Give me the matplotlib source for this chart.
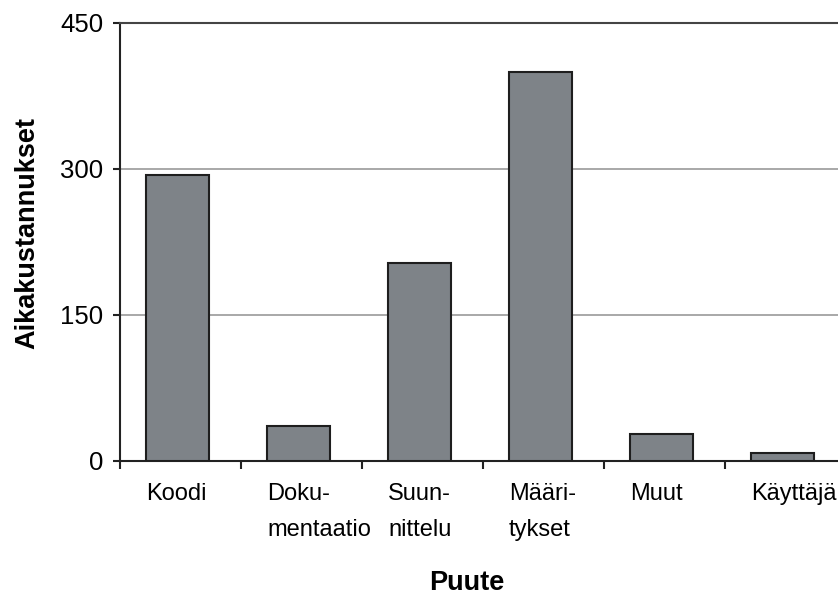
import numpy as np
import matplotlib.pyplot as plt

plt.rcParams['font.family'] = ['Liberation Sans', 'DejaVu Sans']

# Data
categories = ['Koodi', 'Doku-\nmentaatio', 'Suun-\nnittelu', 'Määri-\ntykset', 'Muut', 'Käyttäjä']
values = [294, 36, 203, 400, 28, 8]

fig = plt.figure(figsize=(8.38, 5.97), dpi=100)
ax = fig.add_axes([120/838, 1 - 461/597, 726/838, 438/597])

x = np.arange(len(categories))
width = 0.52
ax.bar(x - 0.025, values, width=width, color='#7e8388', edgecolor='#1e1e1e', linewidth=1.5, zorder=3)

ax.set_xlim(-0.5, len(categories) - 0.5)
ax.set_ylim(0, 450)
ax.set_yticks([0, 150, 300, 450])
ax.yaxis.grid(True, color='#9a9a9a', linewidth=1.2, zorder=0)

# tick marks between categories, labels left-aligned with the bars
ax.set_xticks(np.arange(-0.5, len(categories)), minor=True)
ax.set_xticks(x - 0.025 - width / 2)
ax.set_xticklabels(categories, ha='left', linespacing=1.8, va='top')
ax.tick_params(axis='x', which='major', length=0, pad=16, labelsize=17)
ax.tick_params(axis='x', which='minor', length=6, width=1.5, direction='out', color='#222')
ax.tick_params(axis='y', length=5, width=1.5, direction='out', color='#222', labelsize=18.5, pad=7)

for s in ['left', 'bottom']:
    ax.spines[s].set_color('#222')
    ax.spines[s].set_linewidth(1.5)
ax.spines['top'].set_color('#444')
ax.spines['top'].set_linewidth(1.5)
ax.spines['right'].set_visible(False)

ax.set_xlabel('Puute', fontsize=19.5, fontweight='bold')
ax.xaxis.set_label_coords((467 - 120) / 726, (461 - 570) / 438)
ax.set_ylabel('Aikakustannukset', fontsize=19.5, fontweight='bold')
ax.yaxis.set_label_coords(-(120 - 40) / 726, (461 - 233) / 438)

fig.savefig('out.png', dpi=100)
